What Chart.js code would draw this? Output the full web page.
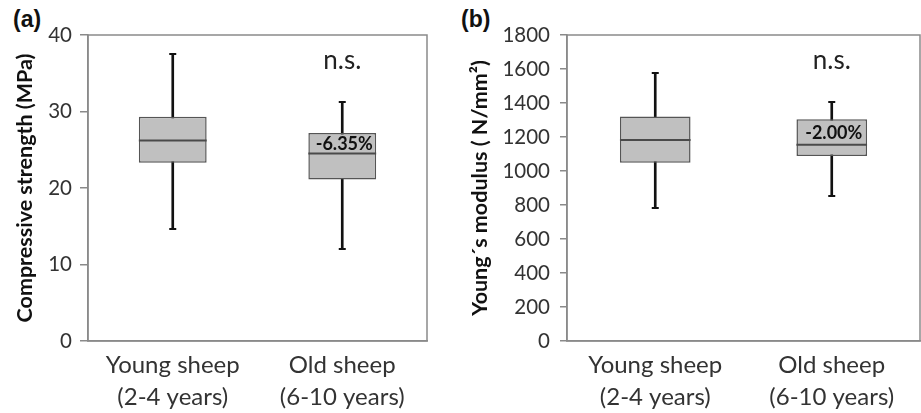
<!DOCTYPE html>
<html>
<head>
<meta charset="utf-8">
<script src="https://cdn.jsdelivr.net/npm/chart.js@4.4.1/dist/chart.umd.min.js"></script>
<style>
  html, body { margin: 0; padding: 0; background: #ffffff; }
  body { width: 921px; height: 413px; position: relative; overflow: hidden; }
  canvas { position: absolute; top: 0; }
  .panel { position: absolute; font-family: "Liberation Sans", Arial, sans-serif; font-weight: bold; font-size: 23px; color: #111; }
</style>
</head>
<body>
<div class="panel" style="left:13px; top:6px;">(a)</div>
<div class="panel" style="left:461px; top:6px;">(b)</div>
<canvas id="chartA" width="440" height="413" style="left:0px;"></canvas>
<canvas id="chartB" width="461" height="413" style="left:460px;"></canvas>
<script>
// ---- data ----
const categories = [["Young sheep", "(2-4 years)"], ["Old sheep", "(6-10 years)"]];

const strengthMin    = [14.7, 12.0];
const strengthQ1     = [23.3, 21.1];
const strengthMedian = [26.2, 24.5];
const strengthQ3     = [29.3, 27.2];
const strengthMax    = [37.5, 31.3];
const strengthTicks  = [0, 10, 20, 30, 40];
const strengthChange = ["", "-6.35%"];

const modulusMin    = [783, 852];
const modulusQ1     = [1048, 1088];
const modulusMedian = [1183, 1154];
const modulusQ3     = [1321, 1305];
const modulusMax    = [1578, 1407];
const modulusTicks  = [0, 200, 400, 600, 800, 1000, 1200, 1400, 1600, 1800];
const modulusChange = ["", "-2.00%"];

const significance = ["", "n.s."];

const FONT = "Lato, 'Open Sans', sans-serif";

const boxPlugin = {
  id: 'boxExtras',
  afterDatasetsDraw(chart, args, opts) {
    const ctx = chart.ctx;
    const y = chart.scales.y;
    const boxMeta = chart.getDatasetMeta(1);
    ctx.save();
    boxMeta.data.forEach((bar, i) => {
      const cx = bar.x;
      const half = bar.width / 2;
      // median
      const my = y.getPixelForValue(opts.median[i]);
      ctx.strokeStyle = '#4a4a4a';
      ctx.lineWidth = 2;
      ctx.beginPath();
      ctx.moveTo(cx - half, my);
      ctx.lineTo(cx + half, my);
      ctx.stroke();
      // caps
      ctx.strokeStyle = '#111';
      ctx.lineWidth = 2;
      [opts.min[i], opts.max[i]].forEach(v => {
        const py = Math.round(y.getPixelForValue(v));
        ctx.beginPath();
        ctx.moveTo(cx - 3.5, py);
        ctx.lineTo(cx + 3.5, py);
        ctx.stroke();
      });
      // change label
      if (opts.change[i]) {
        const ly = (y.getPixelForValue(opts.q3[i]) + my) / 2;
        ctx.fillStyle = '#111';
        ctx.font = 'bold 18px ' + FONT;
        ctx.textAlign = 'center';
        ctx.textBaseline = 'middle';
        ctx.fillText(opts.change[i], cx + 2, ly + 1);
      }
      // significance
      if (opts.sig[i]) {
        ctx.fillStyle = '#222';
        ctx.font = '26px ' + FONT;
        ctx.textAlign = 'center';
        ctx.textBaseline = 'middle';
        ctx.fillText(opts.sig[i], cx, chart.chartArea.top + 26);
      }
    });
    // frame
    const a = chart.chartArea;
    ctx.strokeStyle = '#8a8a8a';
    ctx.lineWidth = 1.5;
    ctx.strokeRect(a.left, a.top, a.right - a.left, a.bottom - a.top);
    ctx.restore();
  }
};

function makeChart(id, cfg) {
  const lows = cfg.min, highs = cfg.max;
  return new Chart(document.getElementById(id), {
    type: 'bar',
    data: {
      labels: categories,
      datasets: [
        {
          label: 'whisker',
          data: lows.map((v, i) => [v, highs[i]]),
          backgroundColor: '#111',
          barThickness: 2,
          grouped: false,
          order: 2
        },
        {
          label: 'box',
          data: cfg.q1.map((v, i) => [v, cfg.q3[i]]),
          backgroundColor: '#c0c0c0',
          borderColor: '#555555',
          borderWidth: 1.5,
          borderSkipped: false,
          barPercentage: 0.4,
          categoryPercentage: 1,
          grouped: false,
          order: 1
        }
      ]
    },
    options: {
      responsive: false,
      devicePixelRatio: 1,
      animation: false,
      layout: { padding: { top: 35, right: cfg.padRight, left: 0, bottom: 0 } },
      plugins: {
        legend: { display: false },
        tooltip: { enabled: false },
        boxExtras: { median: cfg.median, min: cfg.min, max: cfg.max, q3: cfg.q3, change: cfg.change, sig: significance }
      },
      scales: {
        x: {
          grid: { display: false, drawTicks: false },
          border: { display: true, color: '#8a8a8a', width: 1.5 },
          ticks: { color: '#333', font: { family: FONT, size: 24, lineHeight: 1.333 }, padding: 8, maxRotation: 0 },
          afterFit: s => { s.height = 72; }
        },
        y: {
          min: cfg.ticks[0],
          max: cfg.ticks[cfg.ticks.length - 1],
          afterBuildTicks: s => { s.ticks = cfg.ticks.map(v => ({ value: v })); },
          grid: { drawOnChartArea: false, drawTicks: true, tickLength: cfg.tickLen, color: '#8a8a8a', lineWidth: 1.5 },
          border: { display: true, color: '#8a8a8a', width: 1.5 },
          ticks: { color: '#333', font: { family: FONT, size: 20.5 }, padding: cfg.tickPad, callback: v => String(v) },
          title: { display: true, text: cfg.title, color: '#111', font: { family: FONT, size: 21.5, weight: 'bold' }, padding: { top: cfg.titlePad, bottom: 0 } },
          afterFit: s => { s.width = cfg.axisWidth; }
        }
      }
    },
    plugins: [boxPlugin]
  });
}

makeChart('chartA', {
  min: strengthMin, q1: strengthQ1, median: strengthMedian, q3: strengthQ3, max: strengthMax,
  ticks: strengthTicks, change: strengthChange,
  title: 'Compressive strength (MPa)',
  padRight: 13, axisWidth: 88, tickLen: 8, tickPad: 8, titlePad: 12
});

makeChart('chartB', {
  min: modulusMin, q1: modulusQ1, median: modulusMedian, q3: modulusQ3, max: modulusMax,
  ticks: modulusTicks, change: modulusChange,
  title: 'Young\u00B4s modulus ( N/mm\u00B2)',
  padRight: 1, axisWidth: 107, tickLen: 7, tickPad: 10, titlePad: 7
});
</script>
</body>
</html>
